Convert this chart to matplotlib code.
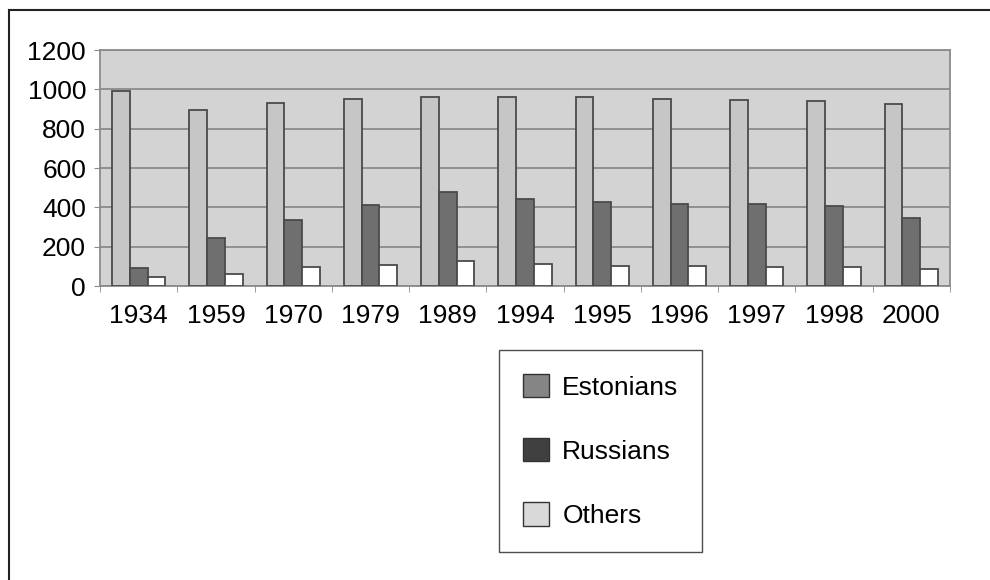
import numpy as np
import matplotlib.pyplot as plt
from matplotlib.patches import Patch
from matplotlib.lines import Line2D

plt.rcParams['font.family'] = ['Liberation Sans', 'DejaVu Sans']

years = ['1934', '1959', '1970', '1979', '1989', '1994', '1995', '1996',
         '1997', '1998', '2000']
estonians = [990, 895, 930, 950, 962, 962, 962, 950, 948, 940, 925]
russians = [90, 245, 338, 413, 477, 440, 428, 419, 415, 405, 345]
others = [45, 60, 98, 105, 125, 111, 100, 100, 98, 98, 85]

series_names = ['Estonians', 'Russians', 'Others']
bar_colors = ['#c6c6c6', '#6f6f6f', '#ffffff']
legend_colors = ['#858585', '#404040', '#d9d9d9']

fig = plt.figure(figsize=(9.9, 5.8), dpi=100)
ax = fig.add_axes([100/990, 1 - 286/580, 850/990, 236/580])
ax.set_facecolor('#d3d3d3')

x = np.arange(len(years))
w = 0.23
for k, vals in enumerate([estonians, russians, others]):
    ax.bar(x + (k - 1) * w, vals, width=w, color=bar_colors[k],
           edgecolor='#4a4a4a', linewidth=1.3, zorder=3)

ax.set_xlim(-0.5, len(years) - 0.5)
ax.set_ylim(0, 1200)
ax.set_yticks(np.arange(0, 1201, 200))
ax.yaxis.grid(True, color='#8a8a8a', linewidth=1.3, zorder=1)
ax.tick_params(axis='y', labelsize=19, length=4, color='#8a8a8a', pad=6)

ax.set_xticks(x)
ax.set_xticklabels(years)
ax.set_xticks(np.arange(-0.5, len(years)), minor=True)
ax.tick_params(axis='x', which='major', labelsize=19, length=0, pad=13)
ax.tick_params(axis='x', which='minor', length=4, color='#8a8a8a')

for s in ax.spines.values():
    s.set_color('#8a8a8a')
    s.set_linewidth(1.3)

# outer frame (top and left only)
fig.add_artist(Line2D([9/990, 9/990], [0, 1 - 10/580], color='#222222',
                      linewidth=1.5, transform=fig.transFigure))
fig.add_artist(Line2D([9/990, 1], [1 - 10/580, 1 - 10/580], color='#222222',
                      linewidth=1.5, transform=fig.transFigure))

handles = [Patch(facecolor=c, edgecolor='#333333', linewidth=1)
           for c in legend_colors]
leg = fig.legend(handles, series_names, loc='upper left',
                 bbox_to_anchor=(499/990, 1 - 350/580), fontsize=19,
                 frameon=True, fancybox=False, shadow=False,
                 handlelength=1.0, handleheight=1.0, handletextpad=0.5,
                 labelspacing=1.45, borderpad=0.9, borderaxespad=0)
leg.get_frame().set_edgecolor('#222222')
leg.get_frame().set_linewidth(1.0)

plt.savefig('out.png', dpi=100)
